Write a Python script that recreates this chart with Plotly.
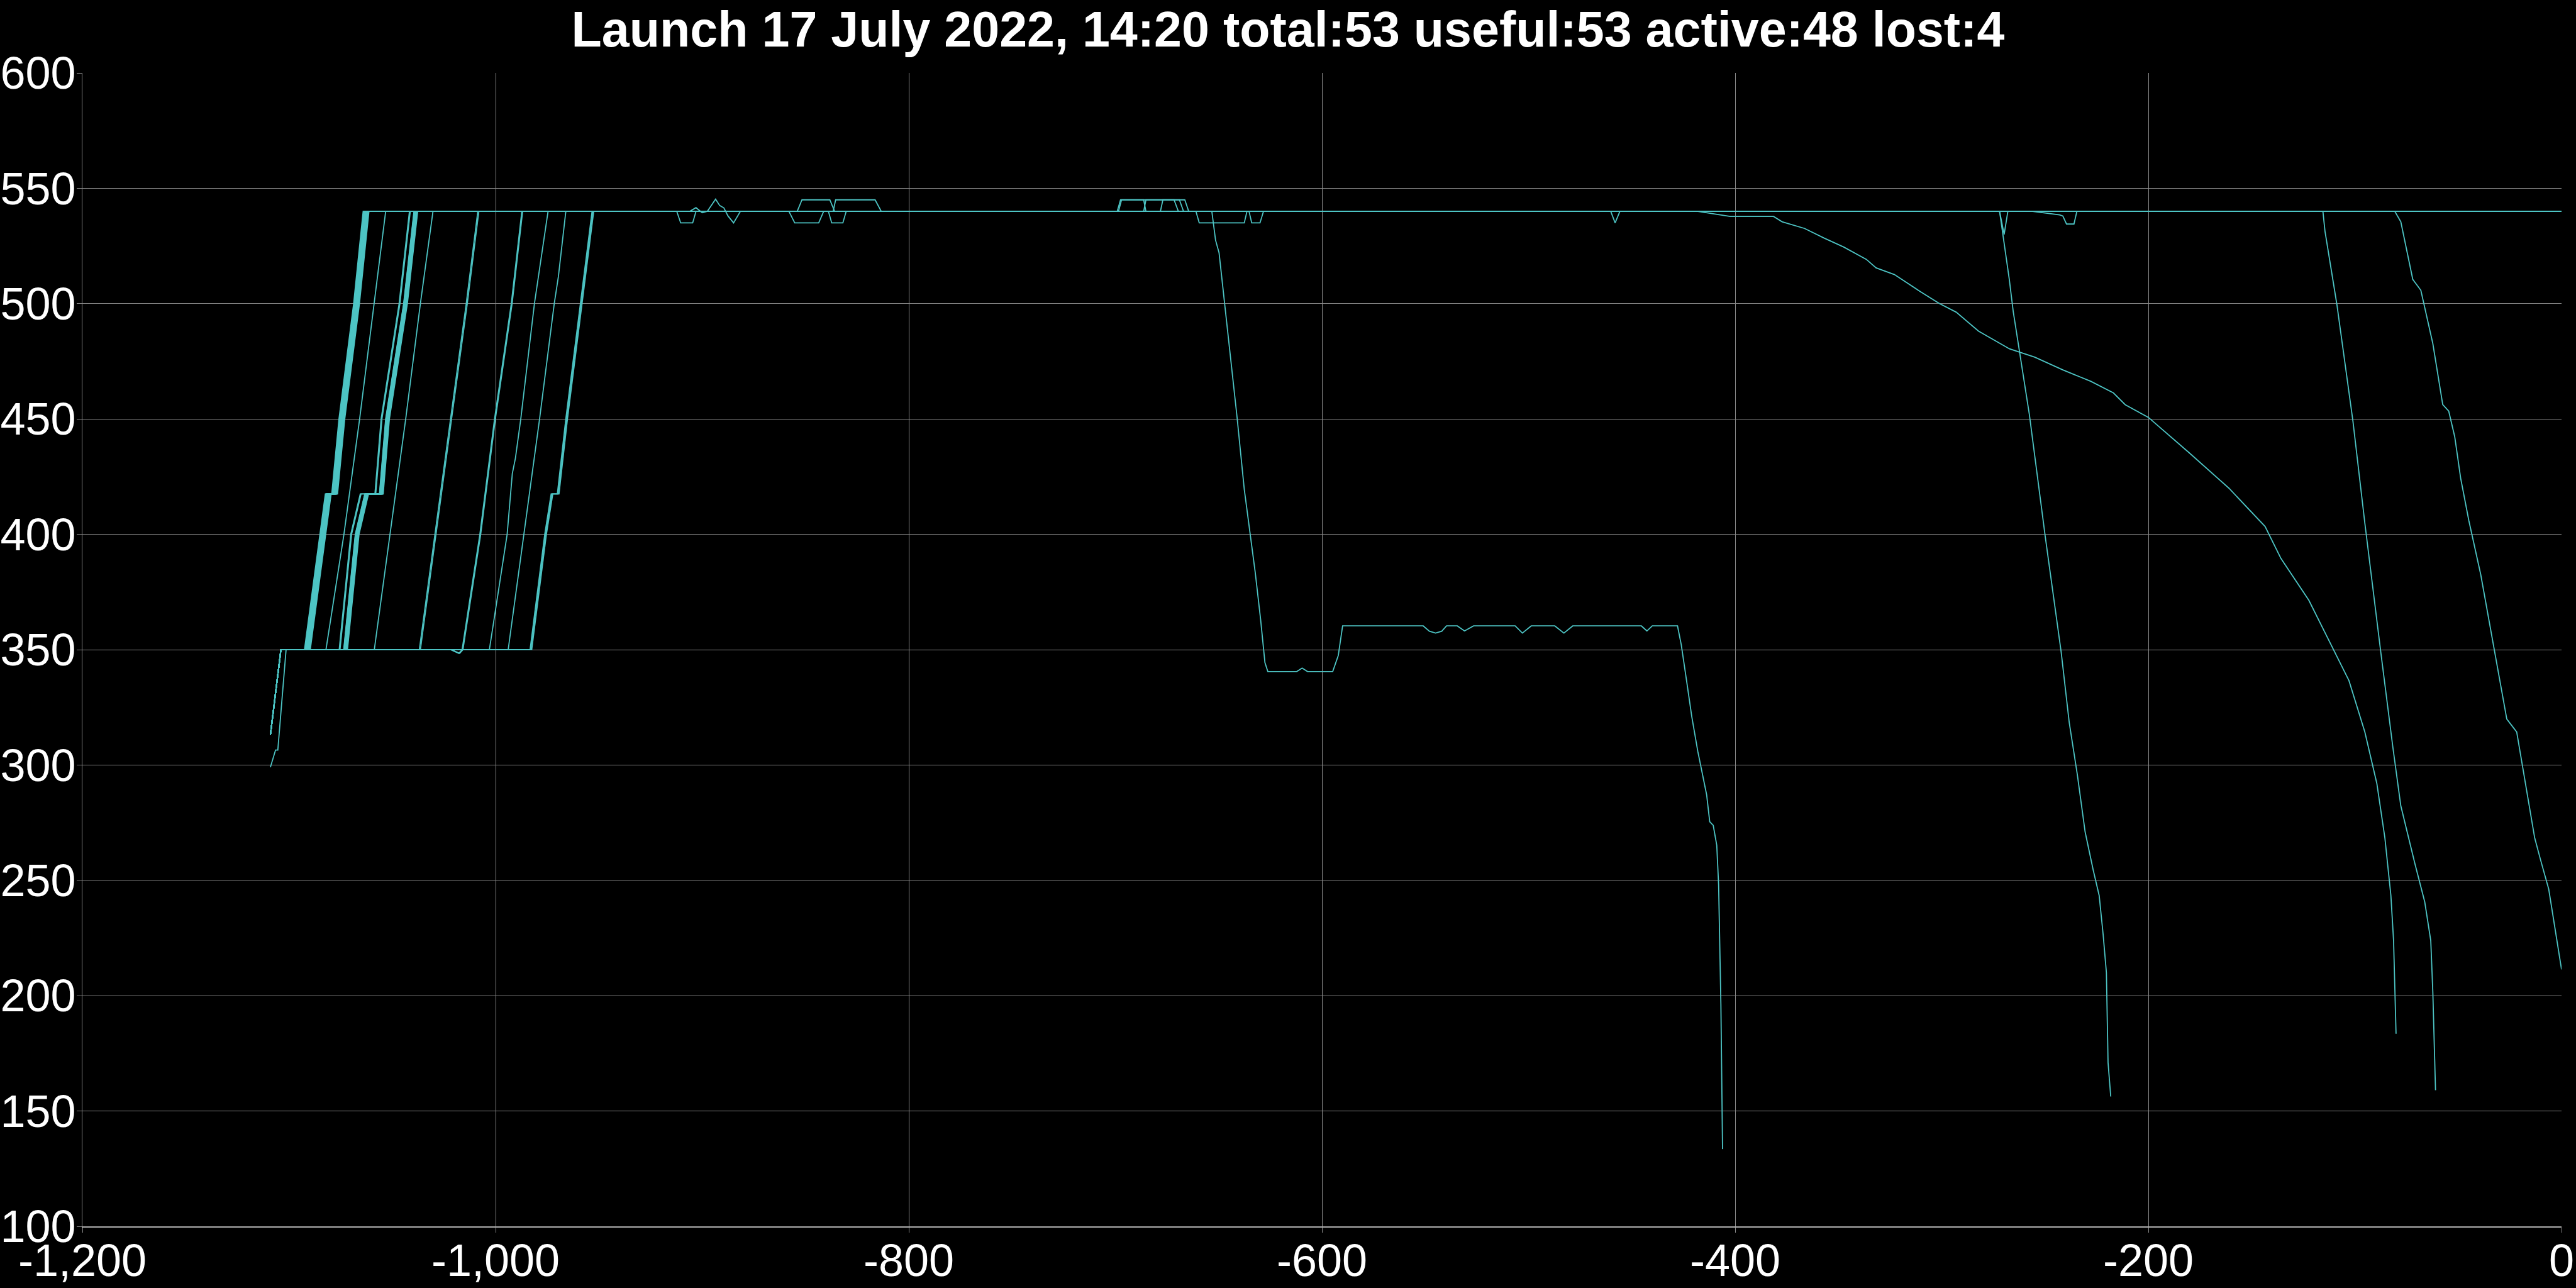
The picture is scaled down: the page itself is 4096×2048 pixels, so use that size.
import plotly.graph_objects as go

# ---------------- text ----------------
TITLE = "Launch 17 July 2022, 14:20 total:53 useful:53 active:48 lost:4"
X_TICKS = [-1200, -1000, -800, -600, -400, -200, 0]
X_TICKTEXT = ["-1,200", "-1,000", "-800", "-600", "-400", "-200", "0"]
Y_TICKS = [100, 150, 200, 250, 300, 350, 400, 450, 500, 550, 600]
Y_TICKTEXT = ["100", "150", "200", "250", "300", "350", "400", "450", "500", "550", "600"]

# ---------------- launch / insertion ----------------
LAUNCH_X = [-1109.0, -1103.9]
LAUNCH_Y = [313.0, 350.0]
LAUNCH_ALT_X = [-1109.0, -1106.5, -1105.4, -1101.4]
LAUNCH_ALT_Y = [299.0, 306.5, 306.5, 350.0]

# ---------------- orbit raising profiles (350 -> 540) ----------------
CLIMB_B1_X = [-1092.2, -1082.1, -1079.0, -1075.5, -1068.4, -1063.8]
CLIMB_B1_Y = [350.0, 417.5, 417.5, 450.0, 500.0, 540.0]
B1_SHIFTS = [-0.3, 0.0, 0.2, 0.4, 0.6, 0.8, 1.0, 1.2, 1.4, 1.6, 1.8, 2.0,
             2.2, 2.5, 0.1, 0.5, 0.9, 1.3, 1.7, 2.1, 0.3, 0.7, 1.1, 1.5]

CLIMB_A_X = [-1082.1, -1073.4, -1065.8, -1058.7, -1053.2]
CLIMB_A_Y = [350.0, 400.0, 450.0, 500.0, 540.0]

CLIMB_B2_X = [-1073.5, -1067.9, -1063.3, -1056.2, -1053.2, -1044.5, -1039.5]
CLIMB_B2_Y = [350.0, 400.0, 417.5, 417.5, 450.0, 500.0, 540.0]
B2_SHIFTS = [-2.2, -1.8, 0.0, 0.2, 0.4, 0.6, 0.8, 1.0, 1.2, 1.4, 1.6, 1.8,
             0.3, 0.9, 1.5, 0.5, 1.1, 0.1]

CLIMB_B_X = [-1058.7, -1051.1, -1043.5, -1036.4, -1030.3]
CLIMB_B_Y = [350.0, 400.0, 450.0, 500.0, 540.0]

CLIMB_C_X = [-1036.9, -1029.4, -1026.9, -1021.8, -1014.2, -1008.6]
CLIMB_C_Y = [350.0, 400.0, 417.5, 450.0, 500.0, 540.0]
C_SHIFTS = [0.0, 0.5]

CLIMB_D_X = [-1021.8, -1017.8, -1016.2, -1007.6, -1000.5, -992.4, -987.3]
CLIMB_D_Y = [350.0, 348.4, 350.0, 400.0, 450.0, 500.0, 540.0]
D_SHIFTS = [0.0, 0.4]

CLIMB_E_X = [-1003.0, -994.4, -991.9, -990.4, -987.8, -981.2, -974.6]
CLIMB_E_Y = [350.0, 400.0, 426.3, 433.0, 450.0, 500.0, 540.0]

CLIMB_F_X = [-993.9, -986.3, -978.7, -971.6, -969.6, -966.0]
CLIMB_F_Y = [350.0, 400.0, 450.0, 500.0, 511.7, 540.0]

CLIMB_G_X = [-983.3, -976.2, -973.1, -970.1, -966.0, -958.9, -953.3]
CLIMB_G_Y = [350.0, 400.0, 417.5, 417.5, 450.0, 500.0, 540.0]
G_SHIFTS = [0.0, 0.4, 0.8]

# ---------------- short excursions on the 540 km shell ----------------
DIP_912_X = [-912.3, -910.4, -904.6, -903.0]
DIP_912_Y = [540.0, 535.0, 535.0, 540.0]
WIGGLE_900_X = [-906.0, -903.0, -900.0, -897.5, -893.5, -891.5, -889.5, -887.5, -884.8, -881.5]
WIGGLE_900_Y = [540.0, 541.6, 539.4, 540.0, 545.3, 542.5, 541.5, 538.0, 535.0, 540.0]
DIP_858_X = [-858.0, -855.2, -843.6, -841.2]
DIP_858_Y = [540.0, 535.0, 535.0, 540.0]
DIP_839_X = [-838.9, -837.3, -831.9, -830.3]
DIP_839_Y = [540.0, 535.0, 535.0, 540.0]
UP_854_X = [-854.0, -851.7, -838.2, -835.9]
UP_854_Y = [540.0, 545.0, 545.0, 540.0]
UP_836_X = [-836.6, -835.4, -816.3, -813.3]
UP_836_Y = [540.0, 545.0, 545.0, 540.0]
UP_699_X = [-699.1, -697.5, -686.3, -685.2]
UP_699_Y = [540.0, 545.0, 545.0, 540.0]
UP_698_X = [-698.5, -697.0, -671.6, -669.5]
UP_698_Y = [540.0, 545.0, 545.0, 540.0]
UP_686_X = [-686.3, -685.2, -669.0, -667.0]
UP_686_Y = [540.0, 545.0, 545.0, 540.0]
UP_678_X = [-678.2, -677.0, -666.4, -664.5]
UP_678_Y = [540.0, 545.0, 545.0, 540.0]
DIP_661_X = [-661.0, -659.4, -637.6, -636.3]
DIP_661_Y = [540.0, 535.0, 535.0, 540.0]
DIP_635_X = [-635.3, -634.0, -630.0, -628.3]
DIP_635_Y = [540.0, 535.0, 535.0, 540.0]
DIP_458_X = [-460.2, -458.1, -455.8]
DIP_458_Y = [540.0, 535.0, 540.0]
DIP_270_X = [-272.0, -269.8, -268.0]
DIP_270_Y = [540.0, 530.0, 540.0]
DIP_240_X = [-256.0, -243.0, -241.4, -239.6, -236.0, -234.6]
DIP_240_Y = [540.0, 538.5, 538.0, 534.5, 534.5, 540.0]

# ---------------- descents ----------------
DROP1_X = [-653.3, -651.5, -649.8, -645.4, -641.1, -637.6, -635.0, -632.3, -629.7, -627.6,
           -626.2, -612.2, -609.6, -607.0, -594.8, -592.1, -590.0, -551.0, -548.0, -545.0,
           -542.0, -539.7, -534.5, -531.0, -526.6, -506.5, -503.0, -498.7, -487.3, -482.9,
           -478.6, -445.4, -442.7, -440.1, -427.9, -426.1, -423.5, -421.0, -418.1, -416.6,
           -413.8, -412.3, -410.6, -408.9, -408.0, -406.9, -406.1]
DROP1_Y = [540.0, 527.5, 522.0, 485.2, 450.8, 419.5, 402.3, 383.5, 363.1, 344.4,
           340.5, 340.5, 342.0, 340.5, 340.5, 347.5, 360.3, 360.3, 358.0, 357.2,
           358.0, 360.3, 360.3, 358.1, 360.3, 360.3, 357.2, 360.3, 360.3, 357.2,
           360.3, 360.3, 358.1, 360.3, 360.3, 352.2, 336.5, 321.0, 306.0, 299.7,
           287.1, 275.4, 273.8, 265.2, 248.0, 196.2, 133.5]

DROP2_X = [-272.0, -267.3, -265.4, -257.6, -249.9, -242.2, -238.3, -234.4, -230.6, -226.7,
           -223.8, -221.9, -220.3, -219.5, -218.2]
DROP2_Y = [540.0, 510.5, 496.6, 452.0, 399.0, 349.0, 318.5, 296.0, 271.0, 254.5,
           243.4, 226.7, 210.0, 171.0, 156.3]

CURVE_X = [-418.0, -402.4, -381.4, -377.3, -366.4, -356.9, -347.4, -336.5, -331.8, -322.9,
           -310.7, -301.2, -293.0, -282.2, -267.2, -255.0, -241.4, -227.8, -216.9, -211.2,
           -200.0, -180.3, -161.0, -143.5, -135.8, -122.3, -110.7, -102.9, -95.2, -89.4,
           -85.5, -82.6, -81.3, -80.1]
CURVE_Y = [540.0, 537.8, 537.8, 535.5, 532.6, 528.4, 524.5, 519.2, 515.5, 512.6,
           505.4, 500.1, 496.3, 488.1, 480.4, 476.8, 471.3, 466.3, 461.3, 456.2,
           450.7, 435.4, 420.0, 403.4, 389.5, 371.4, 350.5, 336.6, 314.3, 292.0,
           268.4, 243.4, 223.9, 183.5]

DROP3_X = [-115.5, -114.5, -108.7, -101.0, -95.2, -87.5, -81.6, -77.8, -71.0, -66.2,
           -63.3, -62.3, -61.0]
DROP3_Y = [540.0, 531.4, 499.4, 449.3, 404.8, 349.0, 307.4, 282.3, 257.3, 240.6,
           223.9, 201.6, 159.0]

DROP4_X = [-80.7, -77.8, -72.0, -68.1, -62.3, -57.5, -54.6, -51.7, -48.8, -44.9,
           -39.1, -32.3, -26.5, -21.7, -17.8, -13.0, -10.1, -6.2, 0.0]
DROP4_Y = [540.0, 535.5, 510.5, 505.8, 482.7, 456.2, 453.4, 442.3, 424.2, 406.1,
           382.5, 349.0, 319.9, 314.3, 293.5, 268.4, 258.7, 246.2, 211.4]

END_X = [0.0]
END_Y = [540.0]

LINE_COLOR = "#4dc4c4"

# ---------------- assembly ----------------
series = []


def add(climb_x, climb_y, shift=0.0, events=(), tail=(END_X, END_Y), alt=False):
    lx, ly = (LAUNCH_ALT_X, LAUNCH_ALT_Y) if alt else (LAUNCH_X, LAUNCH_Y)
    xs = list(lx) + [v + shift for v in climb_x]
    ys = list(ly) + list(climb_y)
    for ex, ey in events:
        xs += list(ex)
        ys += list(ey)
    xs += list(tail[0])
    ys += list(tail[1])
    series.append((xs, ys))


b1_events = {
    3: [(DIP_858_X, DIP_858_Y)],
    5: [(DIP_839_X, DIP_839_Y)],
    7: [(DIP_912_X, DIP_912_Y)],
    9: [(UP_699_X, UP_699_Y)],
    10: [(UP_686_X, UP_686_Y)],
    11: [(DIP_661_X, DIP_661_Y)],
    12: [(DIP_458_X, DIP_458_Y)],
    13: [(DIP_240_X, DIP_240_Y)],
}
for i, s in enumerate(B1_SHIFTS):
    add(CLIMB_B1_X, CLIMB_B1_Y, s, b1_events.get(i, ()))

b2_events = {
    4: [(UP_854_X, UP_854_Y)],
    6: [(UP_836_X, UP_836_Y)],
    8: [(WIGGLE_900_X, WIGGLE_900_Y)],
    9: [(UP_698_X, UP_698_Y)],
    10: [(UP_678_X, UP_678_Y)],
    11: [(DIP_635_X, DIP_635_Y)],
    12: [(DIP_270_X, DIP_270_Y)],
}
for i, s in enumerate(B2_SHIFTS):
    add(CLIMB_B2_X, CLIMB_B2_Y, s, b2_events.get(i, ()), alt=(i == 0))

add(CLIMB_A_X, CLIMB_A_Y, tail=(DROP1_X, DROP1_Y))
add(CLIMB_B_X, CLIMB_B_Y, tail=(DROP2_X, DROP2_Y))
add(CLIMB_C_X, CLIMB_C_Y, C_SHIFTS[0])
add(CLIMB_C_X, CLIMB_C_Y, C_SHIFTS[1], tail=(DROP4_X, DROP4_Y))
for s in D_SHIFTS:
    add(CLIMB_D_X, CLIMB_D_Y, s)
add(CLIMB_E_X, CLIMB_E_Y, tail=(CURVE_X, CURVE_Y))
add(CLIMB_F_X, CLIMB_F_Y, tail=(DROP3_X, DROP3_Y))
for s in G_SHIFTS:
    add(CLIMB_G_X, CLIMB_G_Y, s)

fig = go.Figure()
for xs, ys in series:
    fig.add_trace(go.Scatter(x=xs, y=ys, mode="lines",
                             line=dict(color=LINE_COLOR, width=1.8),
                             hoverinfo="skip", showlegend=False))

GRID = "#8a8a8a"
fig.update_layout(
    width=4096, height=2048,
    paper_bgcolor="black", plot_bgcolor="black",
    margin=dict(l=131, r=23, t=116, b=98, autoexpand=False),
    showlegend=False,
    title=dict(text=TITLE, x=0.5, xref="container", xanchor="center",
               y=1 - 46 / 2048, yref="container", yanchor="middle",
               font=dict(family="Liberation Sans", size=79, color="white", weight="bold")),
    font=dict(family="Liberation Sans", color="white"),
)
fig.update_xaxes(range=[-1200, 0], tickvals=X_TICKS, ticktext=X_TICKTEXT,
                 tickfont=dict(size=72, color="white", family="Liberation Sans"),
                 ticklabelstandoff=-17,
                 showgrid=True, gridcolor=GRID, gridwidth=1,
                 zeroline=False, showline=True, linecolor="#b0b0b0", linewidth=1.5,
                 ticks="outside", ticklen=8, tickcolor=GRID, tickwidth=1)
fig.update_yaxes(range=[100, 600], tickvals=Y_TICKS, ticktext=Y_TICKTEXT,
                 tickfont=dict(size=72, color="white", family="Liberation Sans"),
                 ticklabelstandoff=-13,
                 showgrid=True, gridcolor=GRID, gridwidth=1,
                 zeroline=False, showline=True, linecolor=GRID, linewidth=1,
                 ticks="outside", ticklen=8, tickcolor=GRID, tickwidth=1)

fig.write_html("out.html", config={"displayModeBar": False},
               post_script="document.body.style.margin='0px';document.body.style.background='black';")
